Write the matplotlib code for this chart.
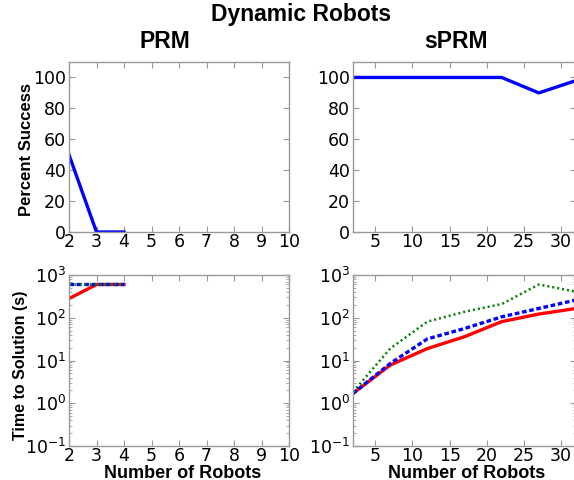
import matplotlib
matplotlib.use('Agg')
import matplotlib.pyplot as plt
from matplotlib.ticker import LogLocator

# PRM data
prm_robots = [2, 3, 4]
prm_success = [50, 0, 0]
prm_time_red = [280, 600, 600]
prm_time_blue = [600, 600, 600]
prm_time_green = [600, 600, 600]

# sPRM data
sprm_robots = [2, 7, 12, 17, 22, 27, 32]
sprm_success = [100, 100, 100, 100, 100, 90, 98]
sprm_time_red = [1.7, 7.8, 19, 36, 81, 122, 165]
sprm_time_blue = [1.7, 8.5, 32, 56, 105, 165, 260]
sprm_time_green = [1.85, 19, 81, 138, 209, 600, 407]

label_font = {'family': 'Liberation Sans', 'weight': 'bold'}

fig = plt.figure(figsize=(5.74, 4.80), dpi=100)
W, H = 574.0, 480.0

def make_ax(x0, y_top, w, h):
    return fig.add_axes([x0 / W, (H - y_top - h) / H, w / W, h / H])

ax_ps = make_ax(69, 62, 220, 170)
ax_pt = make_ax(69, 275, 220, 171)
ax_ss = make_ax(353, 62, 223, 170)
ax_st = make_ax(353, 275, 223, 171)

for ax in (ax_ps, ax_pt, ax_ss, ax_st):
    for sp in ax.spines.values():
        sp.set_color('#999999')
        sp.set_linewidth(1.0)
    ax.tick_params(direction='in', top=True, right=True, labelsize=12.5,
                   pad=2, color='#999999', length=4)
    ax.tick_params(axis='x', pad=1)
    ax.tick_params(which='minor', direction='in', top=True, right=True,
                   color='#999999', length=2)

def draw_times(ax, x, red, blue, green):
    ax.plot(x, red, color='r', lw=2.4)
    ax.plot(x, blue, color='b', lw=2.4, ls=(0, (1.4, 0.8)))
    ax.plot(x, green, color='g', lw=1.8, ls=(0, (0.8, 1.2)))

# success plots
ax_ps.plot(prm_robots, prm_success, color='b', lw=2.4)
ax_ps.set_xlim(2, 10)
ax_ps.set_ylim(0, 110)
ax_ps.set_xticks(range(2, 11))
ax_ps.set_yticks(range(0, 101, 20))

ax_ss.plot(sprm_robots, sprm_success, color='b', lw=2.4)
ax_ss.set_xlim(2, 32)
ax_ss.set_ylim(0, 110)
ax_ss.set_xticks([5, 10, 15, 20, 25, 30])
ax_ss.set_yticks(range(0, 101, 20))

# time plots
draw_times(ax_pt, prm_robots, prm_time_red, prm_time_blue, prm_time_green)
ax_pt.set_xlim(2, 10)
ax_pt.set_xticks(range(2, 11))

draw_times(ax_st, sprm_robots, sprm_time_red, sprm_time_blue, sprm_time_green)
ax_st.set_xlim(2, 32)
ax_st.set_xticks([5, 10, 15, 20, 25, 30])

for ax in (ax_pt, ax_st):
    ax.set_yscale('log')
    ax.set_ylim(0.1, 1000)
    ax.yaxis.set_major_locator(LogLocator(base=10, numticks=10))
    ax.yaxis.set_minor_locator(LogLocator(base=10, subs=range(2, 10), numticks=10))

ax_ps.set_ylabel('Percent Success', fontsize=12, **label_font)
ax_ps.yaxis.set_label_coords(-0.16, 0.488)
ax_pt.set_ylabel('Time to Solution (s)', fontsize=11.5, **label_font)
ax_pt.yaxis.set_label_coords(-0.185, 0.474)
ax_pt.set_xlabel('Number of Robots', fontsize=13, **label_font)
ax_pt.xaxis.set_label_coords(0.515, -0.11)
ax_st.set_xlabel('Number of Robots', fontsize=13, **label_font)
ax_st.xaxis.set_label_coords(0.51, -0.11)

fig.text(301 / W, 1 - 15 / H, 'Dynamic Robots', ha='center', va='center',
         fontsize=16.5, **label_font)
fig.text(165 / W, 1 - 42 / H, 'PRM', ha='center', va='center',
         fontsize=16.5, **label_font)
fig.text(456 / W, 1 - 42 / H, 'sPRM', ha='center', va='center',
         fontsize=16.5, **label_font)

fig.savefig('out.png', dpi=100)
